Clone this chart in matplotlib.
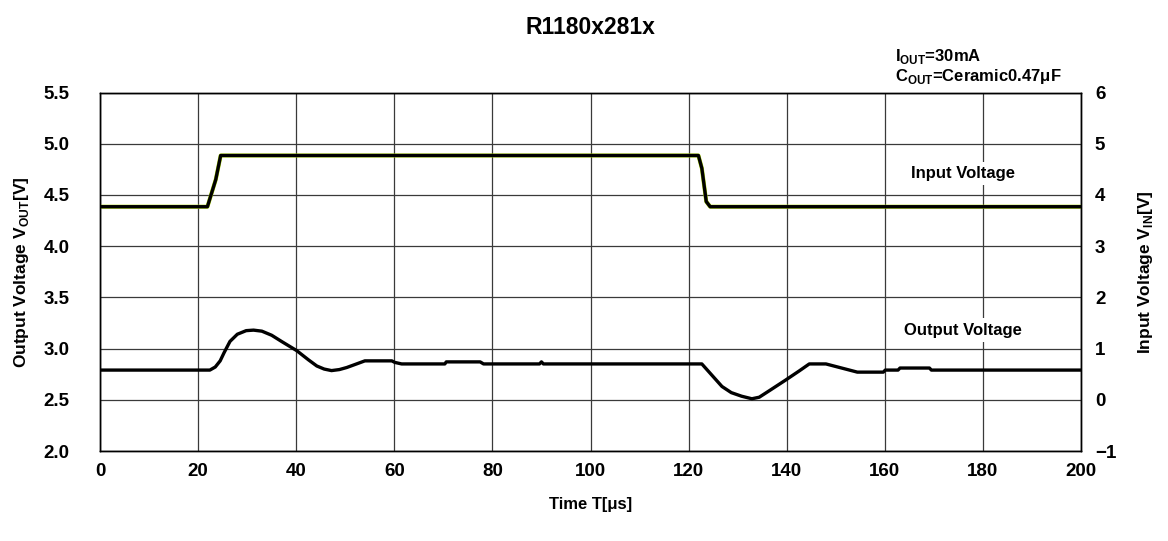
import matplotlib
matplotlib.use("Agg")
import matplotlib.pyplot as plt

plt.rcParams["font.family"] = ["Liberation Sans", "DejaVu Sans"]
plt.rcParams["font.weight"] = "bold"
plt.rcParams["mathtext.fontset"] = "custom"
plt.rcParams["mathtext.rm"] = "Liberation Sans:bold"
plt.rcParams["mathtext.bf"] = "Liberation Sans:bold"

# output voltage (left axis)
t_out = [0, 22.4, 23.5, 24.5, 25.3, 26.5, 28.0, 29.8, 31.3, 33.0, 35.0, 37.0, 40.1,
         42.5, 44.2, 45.7, 47.2, 48.8, 50.3, 52.3, 54.0,
         59.5, 60.1, 61.5, 70.3, 70.6, 77.5, 78.2, 89.6, 90.0, 90.4, 122.7, 126.8,
         128.7, 130.8, 132.9, 134.4, 136.5, 139.7, 142.5, 144.6, 148.0, 154.4,
         159.7, 160.1, 162.7, 163.1, 169.1, 169.5, 200]
v_out = [2.79, 2.79, 2.82, 2.88, 2.96, 3.07, 3.14, 3.175, 3.18, 3.17, 3.13, 3.07, 2.98,
         2.89, 2.83, 2.80, 2.785, 2.795, 2.815, 2.85, 2.88,
         2.88, 2.865, 2.85, 2.85, 2.87, 2.87, 2.85, 2.85, 2.87, 2.85, 2.85, 2.63,
         2.57, 2.535, 2.51, 2.525, 2.59, 2.69, 2.78, 2.85, 2.85, 2.77,
         2.77, 2.79, 2.79, 2.81, 2.81, 2.79, 2.79]

# input voltage (right axis)
t_in = [0, 21.9, 23.6, 24.6, 122.0, 122.7, 123.6, 124.4, 200]
v_in = [3.77, 3.77, 4.30, 4.77, 4.77, 4.52, 3.87, 3.77, 3.77]

x_ticks = [0, 20, 40, 60, 80, 100, 120, 140, 160, 180, 200]
left_ticks = [2.0, 2.5, 3.0, 3.5, 4.0, 4.5, 5.0, 5.5]
right_ticks = [-1, 0, 1, 2, 3, 4, 5, 6]

W, H = 1168, 541
fig = plt.figure(figsize=(W / 100, H / 100), dpi=100)
ax = fig.add_axes([100 / W, 1 - 451 / H, 981 / W, 358.5 / H])
ax2 = ax.twinx()

ax.set_xlim(0, 200)
ax.set_ylim(2.0, 5.5)
ax2.set_ylim(-1, 6)
ax.set_xticks(x_ticks)
ax.set_yticks(left_ticks)
ax.set_yticklabels([f"{v:.1f}" for v in left_ticks])
ax2.set_yticks(right_ticks)
ax.grid(True, color="#3a3a3a", linewidth=0.9)

ax.tick_params(axis="both", length=0, labelsize=13.5)
ax.tick_params(axis="y", pad=22)
ax.tick_params(axis="x", pad=9)
ax2.tick_params(axis="y", length=0, labelsize=13.5, pad=10)
for a in (ax, ax2):
    for s in a.spines.values():
        s.set_color("black")
        s.set_linewidth(1.0)

ax.plot(t_out, v_out, color="black", linewidth=2.4, solid_joinstyle="round")
ax2.plot(t_in, v_in, color="#a8d400", linewidth=2.9)
ax2.plot(t_in, v_in, color="black", linewidth=2.4)

ax2.text(176, 4.42, "Input Voltage", ha="center", va="center", fontsize=12,
         fontweight="bold", bbox=dict(facecolor="white", edgecolor="none", pad=3))
ax2.text(176, 1.36, "Output Voltage", ha="center", va="center", fontsize=12,
         fontweight="bold", bbox=dict(facecolor="white", edgecolor="none", pad=3))

ax.set_xlabel("Time T[\u03bcs]", fontsize=12, fontweight="bold", labelpad=12)
ax.set_ylabel(r"Output Voltage V$_{\mathrm{OUT}}$[V]", fontsize=12.5, fontweight="bold", labelpad=9)
ax2.set_ylabel(r"Input Voltage V$_{\mathrm{IN}}$[V]", fontsize=12.5, fontweight="bold", labelpad=14)

fig.text(590 / W, 1 - 28 / H, "R1180x281x", ha="center", va="center", fontsize=16.5, fontweight="bold")
fig.text(895 / W, 1 - 57 / H, r"I$_{\mathrm{OUT}}$=30mA", ha="left", va="center", fontsize=12, fontweight="bold")
fig.text(895 / W, 1 - 77 / H, "C$_{\\mathrm{OUT}}$=Ceramic0.47\u03bcF",
         ha="left", va="center", fontsize=12, fontweight="bold")

fig.savefig("out.png", dpi=100)
